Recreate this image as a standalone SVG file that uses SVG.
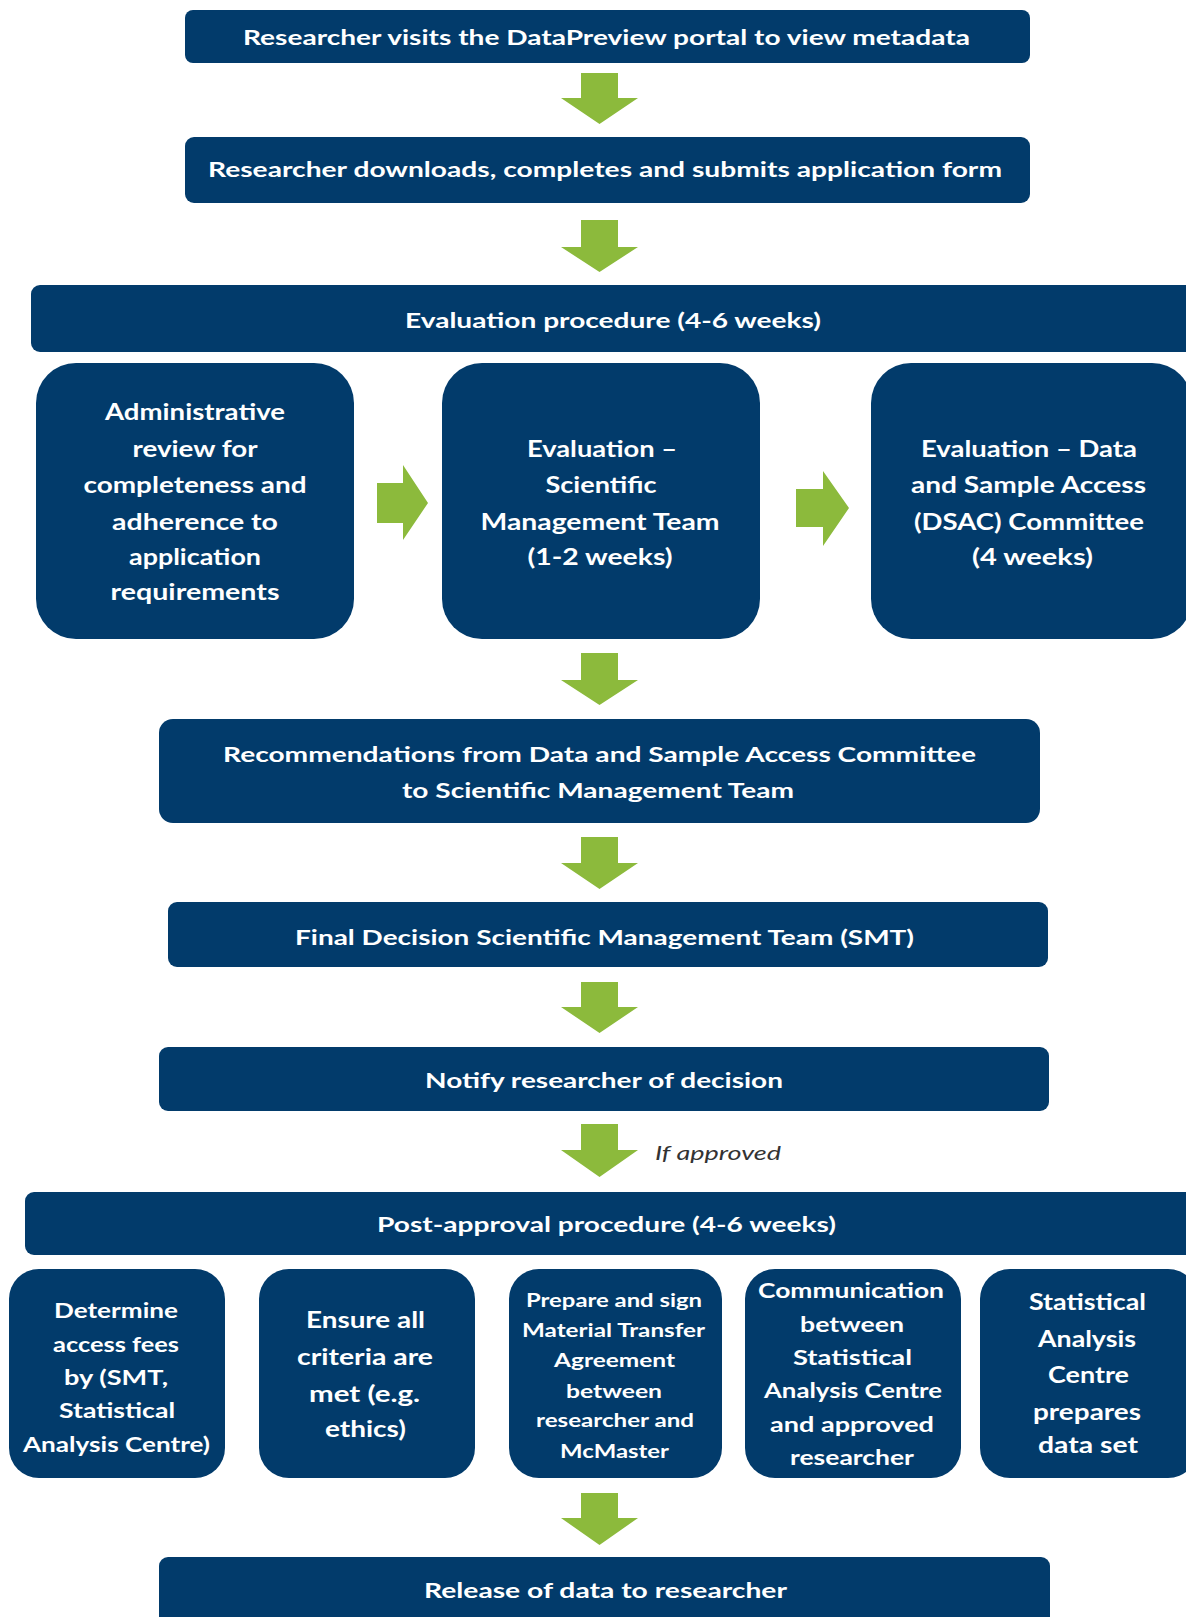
<svg xmlns="http://www.w3.org/2000/svg" width="1186" height="1617" viewBox="0 0 1186 1617">
  <defs>
    <style>
      .box { fill: #023b6b; }
      .arrow { fill: #8cba3c; }
      .t { fill: #ffffff; font-family: Lato, "Open Sans", "Liberation Sans", sans-serif; font-weight: bold; text-anchor: middle; }
      .s20 { font-size: 20px; }
      .s21 { font-size: 21px; }
      .s22 { font-size: 22px; }
      .s19 { font-size: 19px; }
      .note { fill: #333333; font-family: Lato, "Liberation Sans", sans-serif; font-style: italic; font-size: 19px; }
    </style>
  </defs>
  <rect width="1186" height="1617" fill="#ffffff"/>

  <!-- connectors: block arrows -->
  <g id="connectors">
    <polygon class="arrow" points="581,73 618,73 618,98 638,98 599.5,124 561,98 581,98"/>
    <polygon class="arrow" points="581,220 618,220 618,247 638,247 599.5,272 561,247 581,247"/>
    <polygon class="arrow" points="581,653 618,653 618,680 638,680 599.5,705 561,680 581,680"/>
    <polygon class="arrow" points="581,837 618,837 618,863 638,863 599.5,889 561,863 581,863"/>
    <polygon class="arrow" points="581,982 618,982 618,1007 638,1007 599.5,1033 561,1007 581,1007"/>
    <polygon class="arrow" points="581,1124 618,1124 618,1150 638,1150 599.5,1177 561,1150 581,1150"/>
    <polygon class="arrow" points="581,1493 618,1493 618,1518 638,1518 599.5,1545 561,1518 581,1518"/>
    <polygon class="arrow" points="377,483 403,483 403,465 428,503 403,540 403,523 377,523"/>
    <polygon class="arrow" points="796,489 823,489 823,471 849,508 823,546 823,527 796,527"/>
    <text class="note" x="718" y="1160" text-anchor="middle" textLength="126" lengthAdjust="spacingAndGlyphs">If approved</text>
  </g>

  <g id="portal">
    <rect class="box" x="185" y="10" width="845" height="53" rx="8"/>
    <text class="t s20" x="606.5" y="45" textLength="727" lengthAdjust="spacingAndGlyphs">Researcher visits the DataPreview portal  to view metadata</text>
  </g>

  <g id="application">
    <rect class="box" x="185" y="137" width="845" height="66" rx="9"/>
    <text class="t s20" x="605" y="177" textLength="794" lengthAdjust="spacingAndGlyphs">Researcher downloads, completes and submits application  form</text>
  </g>

  <g id="evaluation">
    <rect class="box" x="31" y="285" width="1175" height="67" rx="9"/>
    <text class="t s20" x="613" y="328" textLength="416" lengthAdjust="spacingAndGlyphs">Evaluation  procedure (4-6 weeks)</text>
  </g>

  <g id="admin-review">
    <rect class="box" x="36" y="363" width="318" height="276" rx="40"/>
    <text class="t s22" x="195" y="420" textLength="180" lengthAdjust="spacingAndGlyphs">Administrative</text>
    <text class="t s22" x="195" y="457" textLength="125" lengthAdjust="spacingAndGlyphs">review for</text>
    <text class="t s22" x="195" y="493" textLength="223" lengthAdjust="spacingAndGlyphs">completeness and</text>
    <text class="t s22" x="195" y="530" textLength="166" lengthAdjust="spacingAndGlyphs">adherence to</text>
    <text class="t s22" x="195" y="565" textLength="132" lengthAdjust="spacingAndGlyphs">application</text>
    <text class="t s22" x="195" y="600" textLength="169" lengthAdjust="spacingAndGlyphs">requirements</text>
  </g>

  <g id="smt-evaluation">
    <rect class="box" x="442" y="363" width="318" height="276" rx="40"/>
    <text class="t s22" x="602" y="457" textLength="150" lengthAdjust="spacingAndGlyphs">Evaluation –</text>
    <text class="t s22" x="601" y="493" textLength="111" lengthAdjust="spacingAndGlyphs">Scientific</text>
    <text class="t s22" x="600" y="530" textLength="239" lengthAdjust="spacingAndGlyphs">Management Team</text>
    <text class="t s22" x="600" y="565" textLength="145" lengthAdjust="spacingAndGlyphs">(1-2 weeks)</text>
  </g>

  <g id="dsac-evaluation">
    <rect class="box" x="871" y="363" width="321" height="276" rx="40"/>
    <text class="t s22" x="1029" y="457" textLength="216" lengthAdjust="spacingAndGlyphs">Evaluation – Data</text>
    <text class="t s22" x="1028.5" y="493" textLength="235" lengthAdjust="spacingAndGlyphs">and Sample Access</text>
    <text class="t s22" x="1029" y="530" textLength="230" lengthAdjust="spacingAndGlyphs">(DSAC) Committee</text>
    <text class="t s22" x="1032.5" y="565" textLength="121" lengthAdjust="spacingAndGlyphs">(4 weeks)</text>
  </g>

  <g id="recommendations">
    <rect class="box" x="159" y="719" width="881" height="104" rx="14"/>
    <text class="t s20" x="599.5" y="762" textLength="753" lengthAdjust="spacingAndGlyphs">Recommendations  from Data and Sample  Access Committee</text>
    <text class="t s20" x="598" y="798" textLength="392" lengthAdjust="spacingAndGlyphs">to Scientific  Management Team</text>
  </g>

  <g id="final-decision">
    <rect class="box" x="168" y="902" width="880" height="65" rx="9"/>
    <text class="t s20" x="604.5" y="945" textLength="619" lengthAdjust="spacingAndGlyphs">Final Decision  Scientific  Management Team (SMT)</text>
  </g>

  <g id="notify">
    <rect class="box" x="159" y="1047" width="890" height="64" rx="9"/>
    <text class="t s20" x="604" y="1088" textLength="358" lengthAdjust="spacingAndGlyphs">Notify  researcher of decision</text>
  </g>

  <g id="post-approval">
    <rect class="box" x="25" y="1192" width="1181" height="63" rx="9"/>
    <text class="t s20" x="606.5" y="1232" textLength="459" lengthAdjust="spacingAndGlyphs">Post-approval  procedure (4-6 weeks)</text>
  </g>

  <g id="access-fees">
    <rect class="box" x="9" y="1269" width="216" height="209" rx="30"/>
    <text class="t s21" x="116" y="1318" textLength="124" lengthAdjust="spacingAndGlyphs">Determine</text>
    <text class="t s21" x="116" y="1352" textLength="126" lengthAdjust="spacingAndGlyphs">access fees</text>
    <text class="t s21" x="116" y="1385" textLength="104" lengthAdjust="spacingAndGlyphs">by (SMT,</text>
    <text class="t s21" x="117" y="1418" textLength="116" lengthAdjust="spacingAndGlyphs">Statistical</text>
    <text class="t s21" x="116.5" y="1452" textLength="187" lengthAdjust="spacingAndGlyphs">Analysis Centre)</text>
  </g>

  <g id="criteria">
    <rect class="box" x="259" y="1269" width="216" height="209" rx="30"/>
    <text class="t s22" x="365.5" y="1328" textLength="119" lengthAdjust="spacingAndGlyphs">Ensure all</text>
    <text class="t s22" x="365" y="1365" textLength="136" lengthAdjust="spacingAndGlyphs">criteria are</text>
    <text class="t s22" x="364.5" y="1402" textLength="111" lengthAdjust="spacingAndGlyphs">met (e.g.</text>
    <text class="t s22" x="365.5" y="1437" textLength="81" lengthAdjust="spacingAndGlyphs">ethics)</text>
  </g>

  <g id="mta">
    <rect class="box" x="509" y="1269" width="213" height="209" rx="30"/>
    <text class="t s19" x="614" y="1307" textLength="176" lengthAdjust="spacingAndGlyphs">Prepare and sign</text>
    <text class="t s19" x="613.5" y="1337" textLength="183" lengthAdjust="spacingAndGlyphs">Material Transfer</text>
    <text class="t s19" x="614.5" y="1367" textLength="121" lengthAdjust="spacingAndGlyphs">Agreement</text>
    <text class="t s19" x="614" y="1398" textLength="96" lengthAdjust="spacingAndGlyphs">between</text>
    <text class="t s19" x="615" y="1427" textLength="158" lengthAdjust="spacingAndGlyphs">researcher and</text>
    <text class="t s19" x="614.5" y="1458" textLength="109" lengthAdjust="spacingAndGlyphs">McMaster</text>
  </g>

  <g id="communication">
    <rect class="box" x="745" y="1269" width="216" height="209" rx="30"/>
    <text class="t s21" x="851" y="1298" textLength="186" lengthAdjust="spacingAndGlyphs">Communication</text>
    <text class="t s21" x="852" y="1332" textLength="104" lengthAdjust="spacingAndGlyphs">between</text>
    <text class="t s21" x="852.5" y="1365" textLength="119" lengthAdjust="spacingAndGlyphs">Statistical</text>
    <text class="t s21" x="853" y="1398" textLength="178" lengthAdjust="spacingAndGlyphs">Analysis Centre</text>
    <text class="t s21" x="852" y="1432" textLength="164" lengthAdjust="spacingAndGlyphs">and approved</text>
    <text class="t s21" x="852" y="1465" textLength="124" lengthAdjust="spacingAndGlyphs">researcher</text>
  </g>

  <g id="data-set">
    <rect class="box" x="980" y="1269" width="218" height="209" rx="30"/>
    <text class="t s22" x="1087.5" y="1310" textLength="117" lengthAdjust="spacingAndGlyphs">Statistical</text>
    <text class="t s22" x="1087" y="1347" textLength="98" lengthAdjust="spacingAndGlyphs">Analysis</text>
    <text class="t s22" x="1088.5" y="1383" textLength="81" lengthAdjust="spacingAndGlyphs">Centre</text>
    <text class="t s22" x="1087" y="1420" textLength="108" lengthAdjust="spacingAndGlyphs">prepares</text>
    <text class="t s22" x="1088" y="1453" textLength="100" lengthAdjust="spacingAndGlyphs">data set</text>
  </g>

  <g id="release">
    <rect class="box" x="159" y="1557" width="891" height="75" rx="9"/>
    <text class="t s20" x="605.5" y="1598" textLength="363" lengthAdjust="spacingAndGlyphs">Release of data to researcher</text>
  </g>
</svg>
